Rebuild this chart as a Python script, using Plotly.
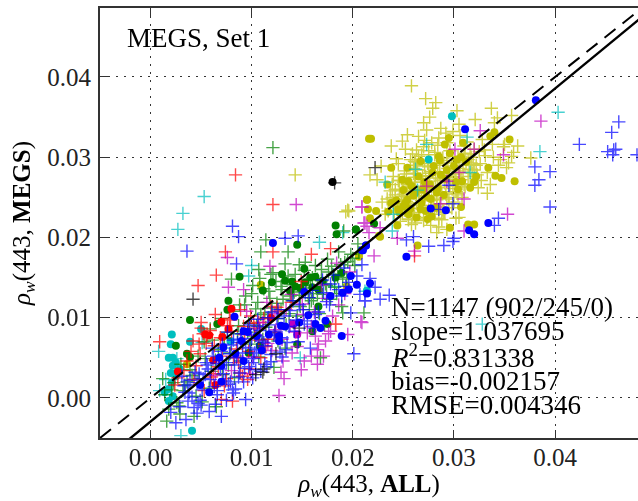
import plotly.graph_objects as go

# All scatter values are in units of 1e-3 of rho_w(443)
yellow_plus_x = [25.8,27.2,28.2,27.9,27.6,27.0,30.3,33.7,32.1,30.5,34.3,34.0,35.7,29.9,28.5,25.2,26.3,27.0,27.8,29.3,31.0,32.8,33.8,34.9,36.3,35.7,37.6,35.9,35.4,35.2,24.5,25.7,26.5,21.7,22.4,24.0,23.9,23.7,24.2,24.9,24.0,32.4,33.6,33.3,19.6,30.2,28.3,29.3,25.8,25.5,
 14.3,19.5,19.3,22.9,26.1,26.8,27.4,28.1,28.9,29.6,30.4,31.2,26.4,27.1,27.9,28.6,29.4,30.1,30.9,31.7,32.5,25.3,26.0,26.7,27.5,28.2,29.0,29.7,30.6,31.4,32.2,33.1,24.6,25.4,26.1,26.9,27.6,28.4,29.1,29.9,30.7,31.5,32.3,24.2,25.0,25.7,26.5,27.2,28.0,28.8,29.5,30.3,31.1,31.9,24.8,25.6,26.3,27.1,27.8,28.6,29.3,30.0,30.8,23.4,24.4,25.2,26.0,26.8,27.5,28.3,29.0,29.8,24.1,25.1,25.9,26.6,27.4,28.1,28.8,30.5,23.2,24.7,25.5,26.2,27.0,27.7,28.5,33.0,33.9,34.6,32.0,31.3,30.6,29.2,28.7,27.3,26.5,25.4,24.9,23.8,22.8,24.3,25.9,27.1,28.4,26.9,28.0,25.0,26.2,27.5,31.8,33.3,34.4,35.0,32.7,31.6,30.2,
 24.5,25.1,25.7,26.3,26.9,27.5,28.1,28.7,29.3,29.9,30.5,31.1,31.7,24.8,25.4,26.0,26.6,27.2,27.8,28.4,29.0,29.6,30.2,30.8,31.4,32.0,25.0,25.6,26.2,26.8,27.4,28.0,28.6,29.2,29.8,30.4,31.0,23.9,24.6,25.3,25.9,26.5,27.1,27.7,28.3,28.9,29.5,23.5,24.2,24.9,25.5,26.1,26.7,27.3,27.9,28.5,29.1,30.1,31.6,32.6]
yellow_plus_y = [38.9,37.3,36.8,36.1,35.0,34.3,35.8,36.1,34.7,34.1,34.9,34.3,35.2,33.2,32.4,31.0,30.9,31.3,31.8,31.8,31.4,32.2,31.6,31.3,31.4,30.1,29.9,30.6,29.3,28.7,29.2,29.7,30.1,27.8,27.2,27.6,26.6,25.8,25.3,25.8,24.3,26.2,26.6,25.5,23.3,22.4,20.6,21.0,21.6,22.2,
 27.8,23.4,23.2,24.4,29.5,30.3,29.2,30.6,29.9,30.8,30.1,29.4,28.4,28.9,28.2,29.0,28.6,29.3,28.1,30.0,30.7,27.9,28.6,27.3,28.0,27.4,27.9,27.2,28.3,27.6,29.0,30.2,27.1,26.7,27.5,26.4,27.0,26.2,26.8,26.1,27.2,28.5,27.8,26.0,25.4,26.2,25.6,25.9,25.2,25.7,25.0,25.5,26.3,29.1,24.7,24.9,24.3,25.1,24.6,24.2,24.8,24.4,25.0,24.8,23.9,24.2,23.6,24.0,23.4,23.8,23.2,23.7,23.1,23.4,22.8,23.1,22.5,22.9,22.2,22.5,22.9,22.0,22.3,21.8,22.1,21.5,21.3,30.9,30.0,29.7,31.0,31.9,32.7,33.0,33.6,33.4,32.6,32.8,32.0,31.4,28.9,29.8,30.4,32.1,31.5,26.9,26.2,26.9,29.4,30.8,28.0,28.1,29.0,31.6,27.1,26.6,25.7,
 27.1,28.3,26.4,29.0,27.7,28.8,30.3,27.1,29.6,27.5,28.6,30.5,29.3,25.1,26.6,28.0,25.5,27.6,26.3,28.0,29.3,26.4,27.9,26.7,29.7,28.4,24.1,25.2,26.9,24.6,26.0,24.9,27.3,25.4,28.9,25.3,26.6,25.0,25.9,24.5,25.7,23.6,25.2,23.8,24.7,23.4,24.2,23.3,24.1,23.0,23.9,22.6,24.0,22.3,23.4,22.4,23.1,27.6,30.4,29.2]
yellow_dot_x = [21.8,23.8,34.0,35.5,29.5,29.1,33.4,34.1,34.7,36.0,32.2,32.0,30.8,31.6,30.4,30.7,21.4,22.3,21.7,23.5,24.4,22.7,26.4,29.6,31.4,32.0,27.8,27.2,26.7,25.5,24.5,23.4,25.4,26.7,28.0,28.7,25.4,26.2,27.3,25.5,29.6,26.8,25.0,28.5,30.3,20.6,33.6,29.3,10.9,20.6,19.4,3.6,22.6,21.6,21.4,21.5,27.6,24.9,28.3,30.9,
 25.8,26.5,27.1,27.9,28.6,29.2,30.0,30.7,25.2,26.0,26.9,27.7,28.4,29.0,24.3,25.0,25.7,23.8,24.6,27.4,30.2,31.2,28.2,26.3]
yellow_dot_y = [32.3,28.7,33.1,32.2,32.4,31.6,28.7,27.7,27.4,27.0,27.6,26.9,27.0,26.2,26.0,23.8,24.7,23.3,22.4,23.2,21.5,20.1,19.0,21.2,21.6,21.6,22.6,23.3,23.5,22.9,23.5,26.6,28.7,29.5,28.9,27.8,24.7,25.6,25.1,27.0,30.5,24.3,23.9,30.1,29.7,17.7,32.6,28.4,14.1,17.6,13.9,4.2,20.2,32.3,24.7,23.5,26.6,27.2,25.6,31.8,
 26.4,27.6,26.9,28.1,29.6,27.3,28.9,30.0,24.3,25.2,26.0,24.8,26.1,25.3,24.6,25.9,23.6,24.3,23.1,22.3,26.9,29.4,23.7,22.5]

blue_plus_x = [46.3,45.6,42.4,45.2,45.8,46.0,45.7,38.0,39.5,38.4,38.0,39.5,29.5,29.9,28.5,34.4,34.0,30.0,29.9,26.0,25.3,29.0,27.5,48.1,
 8.1,8.7,3.6,14.6,13.3,8.5,20.1,8.4,9.4,7.5,5.8,7.0,3.7,3.5,19.8,21.2,21.2,22.7,23.6,
 2.9,3.4,4.1,4.6,5.2,5.7,6.3,6.8,7.2,7.8,8.3,8.9,9.3,9.8,10.2,10.8,11.3,11.7,12.2,12.8,13.2,13.7,14.1,14.6,15.1,15.5,16.0,16.6,17.0,17.4,18.1,18.6,19.1,19.6,20.4,20.9,21.7,
 3.1,4.4,5.5,6.1,7.4,8.0,8.7,9.6,10.4,11.0,11.9,12.5,13.5,14.4,15.3,16.2,17.7,18.9,19.3,22.2,
 5.0,6.5,7.7,9.1,10.1,10.6,11.5,12.0,13.0,10.0,8.2,6.6,4.7,3.8,2.5,2.0,4.9,15.8,20.7,
 3.3,3.9,4.3,4.8,5.1,5.6,5.9,6.2,6.6,6.9,7.1,7.5,7.9,8.2,8.5,8.8,9.0,9.4,9.7,10.0,10.3,10.6,10.9,11.2,11.6,11.9,12.3,12.6,13.0,13.4,13.8,14.2,14.7,15.2,15.7,16.3,17.1,17.8,6.4,7.0,7.6,8.1,8.6,9.2,9.8,10.5,11.3,5.4,4.6,3.7]
blue_plus_y = [34.4,33.1,31.6,30.7,30.9,31.0,30.3,28.8,28.2,27.2,26.5,23.8,26.5,24.2,23.5,22.4,21.5,19.9,19.5,20.1,19.7,19.0,18.9,30.3,
 21.4,20.1,18.3,20.2,19.9,16.7,5.5,1.1,-0.2,-0.3,-1.7,-2.3,-0.4,-2.7,10.6,12.1,12.1,12.3,12.8,
 -1.1,0.7,0.1,1.9,2.4,3.6,1.4,4.7,3.0,5.5,4.1,7.3,3.7,6.2,4.9,8.4,6.5,9.1,7.8,5.7,10.2,8.9,12.1,7.0,11.0,9.6,13.4,10.7,14.7,12.0,15.3,13.5,16.2,14.4,15.2,16.6,14.9,
 2.7,3.2,4.4,6.2,2.1,6.6,2.6,8.6,3.5,7.1,5.4,9.9,6.9,9.7,13.1,8.7,11.6,12.7,13.9,13.8,
 -0.9,4.3,1.7,5.6,2.5,9.8,3.9,10.7,5.1,4.4,0.6,0.4,-0.7,0.6,-3.1,-1.8,-0.3,6.2,12.9,
 1.5,2.2,-1.2,3.0,1.0,4.1,2.3,5.2,0.9,3.6,6.7,4.4,2.0,7.2,5.0,3.1,8.0,6.3,3.9,7.4,5.6,8.9,3.3,6.9,10.0,4.5,8.3,11.0,7.5,6.0,10.9,8.3,11.6,9.2,12.5,10.4,13.1,14.2,-0.8,5.8,8.2,1.0,6.9,2.0,9.1,6.0,4.2,2.9,-1.9,1.6]
blue_dot_x = [38.1,31.1,27.7,29.2,33.4,31.5,32.0,25.3,21.3,20.9,12.1,21.0,21.3,19.8,20.4,19.0,17.8,19.6,21.4,21.7,15.2,15.6,17.3,16.3,16.8,18.9,14.7,12.9,8.3,10.5,9.2,9.6,12.7,12.7,7.2,7.0,9.2,4.9,5.8,7.0,11.7,13.3,8.4,6.8,9.0,11.0]
blue_dot_y = [37.1,33.5,23.6,23.4,21.8,20.9,20.4,17.6,19.0,18.4,19.3,18.4,19.0,15.2,14.1,13.1,12.7,13.5,13.0,14.3,13.2,10.3,9.6,9.2,8.7,7.7,9.4,9.0,10.1,7.7,8.3,8.2,7.7,7.1,6.3,4.0,4.6,1.6,0.7,2.0,7.9,8.9,5.5,5.0,7.1,5.9]

green_plus_x = [12.1,11.4,10.9,13.6,10.7,11.9,8.0,14.7,19.1,21.1,19.0,16.8,1.2,1.6,4.3,12.2,
 2.1,2.6,3.2,3.9,1.8,2.9,4.8,5.4,6.0,6.7,7.3,7.9,8.6,9.1,9.7,10.3,10.9,11.4,12.0,12.6,13.1,13.7,14.2,14.8,15.4,15.9,16.5,17.0,17.6,18.2,18.8,19.4,20.0,20.6,
 8.8,9.4,10.0,10.6,11.2,11.8,12.4,13.0,13.6,14.1,14.7,15.2,15.8,16.3,16.9,17.5,18.0,18.6,19.2,
 9.9,10.5,11.1,11.7,12.3,12.9,13.4,14.0,14.5,15.1,15.7,16.1,16.7,17.3,17.8,18.5,19.8,20.5,
 3.0,3.6,4.5,5.1,5.8,6.5,7.1,7.7,8.3,8.9,10.7,13.3,12.6,17.2,18.9,6.1,
 1.4,2.3,2.8,3.4,4.1,4.7,5.3,5.9,6.4,7.0,7.6,8.2,8.7,9.3,9.6,10.1,10.4,10.8,11.3,11.7,12.1,12.5,12.9,13.3,13.8,14.3,14.9,15.3,15.6,16.0,16.5,16.9,17.4,17.9,18.4,19.0,19.5,20.2]
green_plus_y = [31.2,19.7,18.2,18.2,16.0,15.4,14.8,16.6,20.8,10.6,10.6,5.0,2.4,-2.9,-2.3,3.8,
 1.0,-0.6,0.9,3.5,-1.4,-2.0,2.4,4.9,3.3,6.0,7.4,5.6,8.0,6.9,9.3,7.7,10.4,8.8,11.2,9.9,12.3,10.5,13.2,11.4,14.0,12.1,14.8,12.9,15.7,13.8,16.6,15.0,17.4,18.1,
 11.6,12.7,13.0,11.9,13.6,12.4,14.5,13.5,15.2,14.1,12.8,15.9,13.7,16.5,14.6,17.3,15.4,18.2,16.9,
 6.7,9.0,7.3,10.0,8.1,11.0,9.1,12.1,10.2,13.3,11.0,12.4,10.5,14.2,12.3,15.1,17.9,19.2,
 4.2,2.0,0.2,-0.5,1.2,-1.1,2.9,4.1,2.5,4.6,5.1,6.2,7.1,9.1,11.4,7.2,
 0.4,1.9,-1.0,1.6,2.8,5.2,7.0,8.6,4.7,9.9,8.2,10.8,9.0,11.6,8.2,14.0,11.1,14.9,10.6,13.3,15.6,11.8,13.9,16.7,12.7,15.4,14.0,16.9,12.5,15.0,13.0,16.0,14.0,16.4,13.0,14.8,17.0,16.5]
green_dot_x = [22.1,20.3,18.3,18.4,20.3,14.5,8.8,13.0,15.2,12.0,11.1,7.7,3.9,2.5,3.6,3.9,14.5,16.0,10.8,9.7,13.3,14.3,14.8,13.8,15.8,16.3,16.6,18.3,18.9,7.6,6.6,17.5,16.6,14.0,15.3,16.0,17.0]
green_dot_y = [21.7,21.0,21.5,20.4,21.0,19.1,15.1,15.4,16.1,14.4,13.4,12.1,9.7,6.5,5.5,5.1,6.7,8.3,6.5,5.6,14.6,13.9,13.7,13.3,15.0,15.1,13.5,15.0,15.6,11.0,9.2,9.2,11.4,14.5,14.4,13.8,14.6]

red_plus_x = [8.4,12.1,26.1,7.4,6.5,4.7,0.9,5.0,12.1,15.9,17.8,18.3,5.6,5.2,4.8,8.2,4.5,8.9,9.1,9.6,8.1,7.0,8.9,9.9,7.6,11.9,10.7,6.3,7.1,18.3,
 3.3,4.0,5.9,6.7,7.9,8.5,9.3,10.3,11.4,12.7,13.9,14.9,6.0,7.3,4.2,9.8,10.9,12.3,5.3,2.7,
 2.4,3.6,4.3,4.9,5.5,6.2,6.9,7.5,8.0,8.7,9.2,9.7,10.2,10.7,11.2,11.6,12.5,5.0,6.4,7.8]
red_plus_y = [27.8,24.1,17.7,18.2,15.3,14.0,7.0,9.4,18.2,17.9,18.6,9.2,7.9,8.0,6.7,5.0,4.0,3.1,2.7,2.3,-0.4,-0.2,11.0,10.2,9.0,11.4,9.4,6.5,5.2,9.2,
 3.4,5.8,8.4,3.9,9.7,6.1,7.9,8.7,6.4,10.8,11.9,14.5,2.6,1.5,7.1,3.6,5.0,8.2,0.9,2.5,
 1.6,4.6,2.3,5.5,6.8,3.0,7.5,2.4,8.3,4.4,8.9,5.8,9.3,7.2,9.9,7.3,11.3,8.7,10.4,9.9]
red_dot_x = [8.0,7.0,7.7,7.1,6.2,2.7,6.4,5.4,5.8,11.9]
red_dot_y = [11.1,9.5,8.6,7.6,4.7,3.3,1.6,7.9,7.8,10.0]

cyan_plus_x = [5.3,3.2,2.7,40.3,38.5,27.3,31.3,26.2,31.6,23.2,26.4,24.0,23.9,19.0,0.8,10.0,16.7,14.8,21.2,9.7,0.9,3.0,32.8,2.6,5.1,7.2,1.5,18.2]
cyan_plus_y = [25.1,23.0,21.0,35.6,30.7,31.6,32.5,28.5,28.1,26.9,25.9,22.9,20.8,20.6,5.8,16.5,19.4,5.0,13.3,15.2,0.9,-4.7,9.2,4.9,6.9,6.2,2.3,13.9]
cyan_dot_x = [29.8,27.5,2.1,2.0,5.0,3.9,1.8,2.2,2.2,2.5,2.0,2.5,2.1,2.2,1.8,4.1,7.9,1.8,21.4,1.4,2.9]
cyan_dot_y = [35.1,29.7,7.9,6.7,8.6,7.0,5.0,5.0,4.0,4.4,3.1,2.7,1.9,0.2,-0.4,-4.1,7.1,1.1,13.4,0.7,3.6]

magenta_plus_x = [14.4,20.9,21.2,38.6,32.6,30.1,32.0,34.9,30.5,27.3,29.3,31.0,28.7,20.9,35.3,21.1,31.0,24.4,21.6,22.7,26.1,22.1,
 7.6,7.7,11.8,9.2,20.9,21.4,17.3,16.5,17.1,16.5,15.9,13.2,12.7,17.8,15.2,20.8,
 11.1,12.3,13.0,13.8,14.5,15.5,16.2,17.4,18.0,19.2,19.7,18.4,16.9,15.0,13.9,11.5,10.4,9.5,14.9,16.3,13.1,12.0,
 6.4,8.6,9.9,10.8,11.6,12.4,13.4,14.3,15.1,15.9,16.6,17.6,18.6,19.5,14.0,12.9,10.1,8.0]
magenta_plus_y = [24.1,23.8,21.8,34.5,33.3,31.0,31.0,30.3,28.1,26.4,27.0,24.8,24.2,23.8,22.9,21.8,20.8,19.9,20.6,21.2,18.3,17.7,
 17.5,13.8,16.4,13.5,9.4,21.4,7.1,6.0,5.2,4.2,5.2,2.4,0.3,8.3,4.6,9.5,
 9.4,10.5,7.3,9.0,6.4,8.1,10.7,12.4,10.2,13.0,15.7,16.8,14.1,11.7,12.9,11.9,7.8,10.8,3.5,7.7,4.6,5.9,
 2.8,5.2,3.0,8.6,6.8,8.5,11.0,8.2,10.4,8.9,6.7,8.0,11.6,7.9,5.6,3.2,5.1,3.4]
magenta_dot_x = [14.1,14.5]
magenta_dot_y = [9.2,7.9]

black_plus_x = [18.2,22.2,4.2,12.4,11.2,11.1,14.7,10.4]
black_plus_y = [26.8,28.7,12.3,5.5,3.6,3.2,8.7,2.9]
black_dot_x = [18.0]
black_dot_y = [26.9]

line_x = [-0.005, 0.05]
one_to_one_y = [-0.005, 0.05]
fit_y = [-0.00814, 0.04894]

x_ticks = [0.00, 0.01, 0.02, 0.03, 0.04]
y_ticks = [0.00, 0.01, 0.02, 0.03, 0.04]
tick_labels = ["0.00", "0.01", "0.02", "0.03", "0.04"]

stats = ["N=1147 (902/245/0)", "slope=1.037695", "<i>R</i><sup>2</sup>=0.831338",
         "bias=-0.002157", "RMSE=0.004346"]
stat_y = [0.0113, 0.0083, 0.0052, 0.0021, -0.0009]

FONT = "Liberation Serif, Times New Roman, serif"
fig = go.Figure()

def scale(v):
    return [a / 1000 for a in v]

def plus(x, y, c):
    fig.add_trace(go.Scatter(x=scale(x), y=scale(y), mode="markers", opacity=0.72, hoverinfo="skip",
                             marker=dict(symbol="cross-thin", size=9.5, line=dict(color=c, width=1.4))))

def dot(x, y, c):
    fig.add_trace(go.Scatter(x=scale(x), y=scale(y), mode="markers", hoverinfo="skip",
                             marker=dict(symbol="circle", size=8, color=c, line=dict(width=0))))

plus(yellow_plus_x, yellow_plus_y, "#bfbf00")
dot(yellow_dot_x, yellow_dot_y, "#bfbf00")
plus(cyan_plus_x, cyan_plus_y, "#00bfbf")
dot(cyan_dot_x, cyan_dot_y, "#00bfbf")
plus(green_plus_x, green_plus_y, "#008000")
dot(green_dot_x, green_dot_y, "#008000")
plus(red_plus_x, red_plus_y, "#ff0000")
dot(red_dot_x, red_dot_y, "#ff0000")
plus(magenta_plus_x, magenta_plus_y, "#bf00bf")
dot(magenta_dot_x, magenta_dot_y, "#bf00bf")
plus(blue_plus_x, blue_plus_y, "#0000ff")
dot(blue_dot_x, blue_dot_y, "#0000ff")
plus(black_plus_x, black_plus_y, "#000000")
dot(black_dot_x, black_dot_y, "#000000")

fig.add_trace(go.Scatter(x=line_x, y=one_to_one_y, mode="lines", hoverinfo="skip",
                         line=dict(color="black", width=2, dash="14px,9px")))
fig.add_trace(go.Scatter(x=line_x, y=fit_y, mode="lines", hoverinfo="skip",
                         line=dict(color="black", width=2.4)))

axis = dict(ticks="inside", ticklen=8, tickwidth=1.2, tickcolor="#333333", showline=True,
            linewidth=2, linecolor="#333333", showgrid=True, gridcolor="#333333", gridwidth=1.2,
            griddash="2px,6px", zeroline=False, tickfont=dict(family=FONT, size=25, color="#222222"))

fig.update_layout(
    width=638, height=501, showlegend=False, plot_bgcolor="white", paper_bgcolor="white",
    margin=dict(l=100, r=0, t=8, b=63),
    font=dict(family=FONT, color="black"),
    xaxis=dict(axis, range=[-0.005, 0.0482], tickvals=x_ticks, ticktext=tick_labels, mirror="ticks",
               ticklabelstandoff=-4,
               title=dict(text="<i>ρ</i><sub><i>w</i></sub>(443, <b>ALL</b>)", font=dict(family=FONT, size=25), standoff=4)),
    yaxis=dict(axis, range=[-0.005, 0.0486], tickvals=y_ticks, ticktext=tick_labels,
               ticklabelstandoff=2,
               title=dict(text="<i>ρ</i><sub><i>w</i></sub>(443, <b>MEGS</b>)", font=dict(family=FONT, size=25), standoff=10)),
)

fig.add_annotation(x=-0.0025, y=0.0448, xref="x", yref="y", xanchor="left", yanchor="middle", showarrow=False,
                   text="MEGS, Set 1", font=dict(family=FONT, size=27, color="black"))
for text, y in zip(stats, stat_y):
    fig.add_annotation(x=0.0236, y=y, xref="x", yref="y", xanchor="left", yanchor="middle", showarrow=False,
                       text=text, font=dict(family=FONT, size=27, color="black"))

fig.write_html("out.html", config=dict(displayModeBar=False), post_script="document.body.style.margin='0';")
